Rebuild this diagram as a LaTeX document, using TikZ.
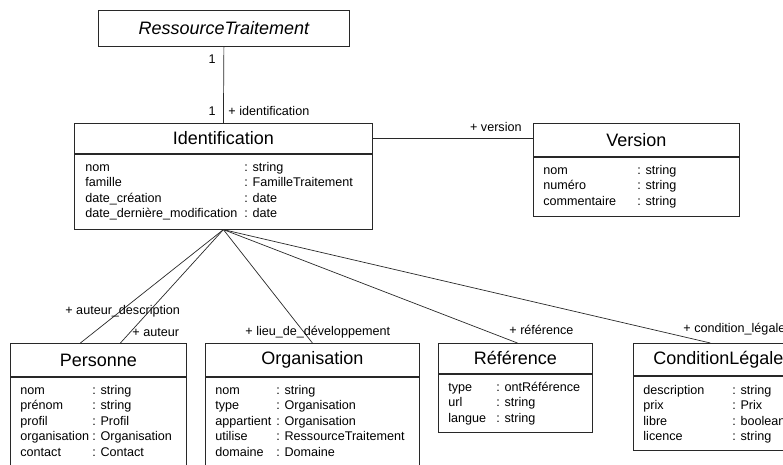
\documentclass[tikz,border=0pt]{standalone}
\usepackage{fontspec}
\setmainfont{Liberation Sans}
\usetikzlibrary{positioning}
\tikzset{
  classhead/.style = {draw=my_line, rectangle, anchor=north west, inner sep=0pt,
  font=\fontsize{18}{20}\selectfont},
  classbody/.style = {draw=my_line, rectangle, anchor=north west, inner sep=0pt},
  attr/.style = {anchor=west, inner sep=0pt, text height=8.5pt, text depth=2.5pt,
  font=\fontsize{12.6}{14}\selectfont},
  role/.style = {attr}
}
\definecolor{my_line}{RGB}{40, 40, 40}

\begin{document}
\begin{tikzpicture}[x=1pt, y=-1pt, line width=0.8pt,
        assoc/.style={draw=my_line, line width=0.7pt}]
    \clip (0,0) rectangle (783,464);
    % classes
    \node [classhead, font=\itshape\fontsize{18}{20}\selectfont, minimum width=251, minimum height=36] (ressource) at (98,10) {RessourceTraitement};
    \node [classhead, minimum width=298, minimum height=30] (ident) at (74,123) {Identification};
    \node [classbody, minimum width=298, minimum height=75] (identbody) at (ident.south west) {};
    \node [classhead, minimum width=206, minimum height=33] (version) at (533,123) {Version};
    \node [classbody, minimum width=206, minimum height=59] (versionbody) at (version.south west) {};
    \node [classhead, minimum width=176, minimum height=33] (personne) at (10,343) {Personne};
    \node [classbody, minimum width=176, minimum height=100] (personnebody) at (personne.south west) {};
    \node [classhead, minimum width=214, minimum height=33] (organisation) at (205,343) {Organisation};
    \node [classbody, minimum width=214, minimum height=100] (organisationbody) at (organisation.south west) {};
    \node [classhead, minimum width=154, minimum height=30] (reference) at (438,343) {Référence};
    \node [classbody, minimum width=154, minimum height=58] (referencebody) at (reference.south west) {};
    \node [classhead, minimum width=170, minimum height=32] (condition) at (633,343) {ConditionLégale};
    \node [classbody, minimum width=170, minimum height=74] (conditionbody) at (condition.south west) {};
    % attributes
    \foreach \nm/\ty [count=\i] in {nom/string, famille/FamilleTraitement, date\_création/date, date\_dernière\_modification/date}{
        \node [attr] (identn\i) at (85,152.5+15.5*\i) {\nm};
        \node [attr] (identt\i) at (244,152.5+15.5*\i) {: \ty};
    }
    \foreach \nm/\ty [count=\i] in {nom/string, numéro/string, commentaire/string}{
        \node [attr] (versionn\i) at (543,155.5+15.5*\i) {\nm};
        \node [attr] (versiont\i) at (637,155.5+15.5*\i) {: \ty};
    }
    \foreach \nm/\ty [count=\i] in {nom/string, prénom/string, profil/Profil, organisation/Organisation, contact/Contact}{
        \node [attr] (personnen\i) at (20,375.5+15.5*\i) {\nm};
        \node [attr] (personnet\i) at (92,375.5+15.5*\i) {: \ty};
    }
    \foreach \nm/\ty [count=\i] in {nom/string, type/Organisation, appartient/Organisation, utilise/RessourceTraitement, domaine/Domaine}{
        \node [attr] (organisationn\i) at (215,375.5+15.5*\i) {\nm};
        \node [attr] (organisationt\i) at (276,375.5+15.5*\i) {: \ty};
    }
    \foreach \nm/\ty [count=\i] in {type/ontRéférence, url/string, langue/string}{
        \node [attr] (referencen\i) at (448,372.5+15.5*\i) {\nm};
        \node [attr] (referencet\i) at (496,372.5+15.5*\i) {: \ty};
    }
    \foreach \nm/\ty [count=\i] in {description/string, prix/Prix, libre/boolean, licence/string}{
        \node [attr] (conditionn\i) at (643,375.5+15.5*\i) {\nm};
        \node [attr] (conditiont\i) at (732,375.5+15.5*\i) {: \ty};
    }
    % associations
    \draw [assoc] (ressource.south) -- (ident.north);
    \draw [assoc] (ident.east) -- (ident.east -| version.west);
    \draw [assoc] (identbody.south) -- ([xshift=-18pt]personne.north);
    \draw [assoc] (identbody.south) -- ([xshift=22pt]personne.north);
    \draw [assoc] (identbody.south) -- (organisation.north);
    \draw [assoc] (identbody.south) -- ([xshift=2pt]reference.north);
    \draw [assoc] (identbody.south) -- ([xshift=-8pt]condition.north);
    % roles
    \node [role, anchor=east] (multtop) at (216,60) {1};
    \node [role, anchor=east] (multbottom) at (216,112) {1};
    \node [role] (roleident) at (228,112) {+ identification};
    \node [role, anchor=east] (roleversion) at (522,128) {+ version};
    \node [role] (roleautdesc) at (65,311) {+ auteur\_description};
    \node [role] (roleauteur) at (132,333) {+ auteur};
    \node [role] (rolelieu) at (245,332) {+ lieu\_de\_développement};
    \node [role] (roleref) at (509,331) {+ référence};
    \node [role] (rolecond) at (683,329) {+ condition\_légale};
\end{tikzpicture}
\end{document}
